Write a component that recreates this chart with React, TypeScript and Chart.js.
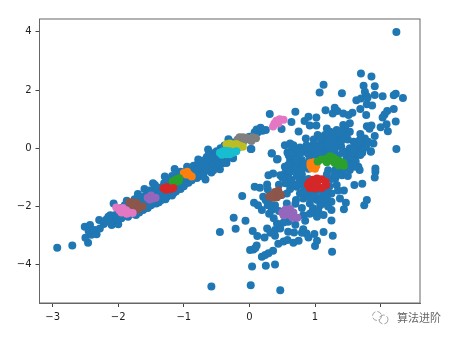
import React, { useEffect, useRef } from "react";
import { Chart, registerables } from "chart.js";

Chart.register(...registerables);

const xTicks = [-3, -2, -1, 0, 1, 2];
const yTicks = [-4, -2, 0, 2, 4];

const strandPoints = [
  [-2.93,-3.41],[-2.70,-3.34],[-2.46,-3.24],[-2.50,-3.07],[-2.41,-2.97],[-2.33,-2.95],[-2.51,-2.69],[-2.43,-2.63],
  [-2.45,-2.85],[-2.36,-2.8],[-2.28,-2.75],[-2.29,-2.46],[-2.18,-2.44],[-2.22,-2.6],[-2.10,-2.63],[-2.0,-2.61],[-2.05,-2.46],[-2.07,-1.89],
  [-2.12,-2.3],[-1.95,-2.40],[-1.85,-2.35],[-1.73,-2.29],[-1.87,-1.80],[-1.90,-1.95],[-2.0,-2.2],[-1.7,-1.57],[-1.6,-1.40],[-1.65,-1.7],
  [-1.75,-1.75],[-1.6,-2.05],[-1.5,-1.95],[-1.57,-2.0],[-1.55,-1.55],[-1.47,-1.2],[-1.44,-1.26],[-1.42,-1.89],[-1.47,-1.5],[-1.37,-1.35],
  [-1.4,-1.6],[-1.34,-1.77],[-1.29,-0.97],[-1.3,-1.2],[-1.26,-1.66],[-1.21,-1.6],[-1.25,-1.1],[-1.16,-1.54],[-1.14,-0.71],[-1.18,-0.95],
  [-1.06,-1.37],[-1.1,-1.25],[-1.02,-0.95],[-1.05,-0.8],[-0.95,-0.63],[-0.97,-1.2],[-0.9,-1.05],[-0.85,-0.75],[-0.82,-1.0],[-0.78,-0.38],
  [-0.8,-0.6],[-0.75,-0.85],[-0.72,-0.5],[-0.7,-0.72],[-0.67,-1.07],[-0.65,-0.3],[-0.63,-0.04],[-0.6,-0.6],[-0.58,-0.83],[-0.55,-0.17],
  [-0.55,-0.4],[-0.5,-0.6],[-0.45,-0.72],[-0.47,-0.25],[-0.44,0],[-0.4,-0.4],[-0.38,0.1],[-0.35,-0.5],[-0.32,0.31],[-0.25,-0.32],
  [-0.15,0.05],[0.03,-0.02],[-0.25,-0.34],[0.11,0.65],[0.17,0.71],[0.25,0.63],[0.2,0.6],[0.31,1.18],[0.13,0.55],
];

const strandFillPoints = [
  [-2.2,-2.5],[-2.15,-2.35],[-2.12,-2.55],[-2.05,-2.3],[-2.0,-2.42],[-1.95,-2.05],[-1.98,-2.3],[-1.9,-2.25],[-1.85,-2.1],[-1.82,-1.95],
  [-1.8,-2.25],[-1.75,-2.15],[-1.72,-1.95],[-1.68,-2.2],[-1.65,-1.85],[-1.62,-2.12],[-1.6,-1.65],[-1.58,-1.85],[-1.55,-2.05],[-1.52,-1.45],
  [-1.5,-1.75],[-1.48,-1.9],[-1.45,-1.55],[-1.45,-1.8],[-1.42,-1.7],[-1.4,-1.4],[-1.38,-1.85],[-1.35,-1.5],[-1.33,-1.65],[-1.3,-1.3],
  [-1.28,-1.45],[-1.28,-1.75],[-1.25,-1.55],[-1.22,-1.2],[-1.2,-1.4],[-1.18,-1.62],[-1.15,-1.05],[-1.15,-1.3],[-1.12,-1.48],[-1.1,-0.95],
  [-1.08,-1.15],[-1.05,-1.4],[-1.05,-1.25],[-1.0,-0.9],[-1.0,-1.1],[-1.0,-1.3],[-0.95,-0.75],[-0.95,-1.0],[-0.93,-1.18],[-0.9,-0.85],
  [-0.88,-1.1],[-0.85,-0.6],[-0.85,-0.9],[-0.8,-0.75],[-0.8,-1.02],[-0.78,-0.5],[-0.75,-0.65],[-0.75,-0.95],[-0.7,-0.42],[-0.7,-0.6],
  [-0.7,-0.88],[-0.65,-0.5],[-0.65,-0.75],[-0.62,-0.2],[-0.6,-0.4],[-0.6,-0.7],[-0.55,-0.3],[-0.55,-0.55],[-0.55,-0.75],[-0.5,-0.1],
  [-0.5,-0.45],[-0.45,-0.35],[-0.45,-0.55],[-0.42,-0.1],[-0.4,-0.25],[-0.4,-0.5],[-0.35,-0.05],[-0.35,-0.35],[-0.3,0.1],[-0.3,-0.3],
  [-0.25,0.2],[-0.2,0.0],[-0.15,0.25],[-0.1,0.2],[0.0,0.4],[0.08,0.55],
];

const cloudUpperPoints = [
  [2.24,3.99],[1.70,2.57],[1.86,2.47],[1.13,2.18],[1.07,1.92],[1.41,1.89],[1.74,2.15],[1.91,2.13],[1.76,1.94],[1.79,1.79],
  [1.91,1.83],[2.03,1.79],[1.63,1.65],[1.70,1.71],[1.80,1.74],[2.20,1.82],[2.23,1.87],[2.34,1.73],[1.69,1.35],[1.79,1.51],
  [1.87,1.47],[1.78,1.14],[2.20,1.35],[2.10,1.28],[2.06,1.16],[2.03,1.06],[2.23,0.92],[2.00,0.72],[2.09,0.83],[2.11,0.59],
  [1.79,0.76],[1.86,0.78],[1.83,0.67],[2.24,-0.02],[1.85,-0.10],[1.91,0.42],[1.89,0.17],[1.30,1.39],[1.16,1.31],[1.27,1.20],
  [1.34,1.28],[1.43,1.20],[1.51,1.14],[1.57,1.22],[0.70,1.26],[0.64,0.90],[0.49,0.66],[1.02,1.06],[0.90,1.08],[0.84,0.94],
  [0.92,0.78],[1.02,0.78],[0.75,0.58],[1.04,0.46],[0.86,0.34],[0.34,-0.18],[0.43,-0.37],[0.02,-0.02],
  [1.18,0.68],[1.23,0.57],[1.33,0.63],[1.43,0.80],[1.53,0.86],[1.46,0.68],[1.53,0.57],[1.38,0.46],[1.25,0.34],[1.15,0.46],
  [1.33,0.28],[1.43,0.34],[1.23,0.17],[1.13,0.23],[1.05,0.11],[0.97,0.11],[0.87,0.11],[0.77,0.03],[0.67,0.11],[0.54,0.11],
  [0.62,0.17],[0.58,-0.14],[0.64,-0.06],[0.72,-0.23],[0.62,-0.40],[0.54,-0.63],[0.80,-0.40],[0.85,-0.12],[1.0,-0.29],[1.46,-0.12],
  [1.53,0.0],[1.59,0.23],[1.69,0.49],[1.76,0.34],[1.71,0.11],[1.66,-0.06],[1.74,0.0],[1.81,0.23],[1.61,-0.29],[1.56,-0.46],
  [1.66,-0.63],[1.92,-0.69],[1.1,0.0],[1.2,-0.1],[1.3,-0.05],[1.4,0.05],[1.15,-0.2],[1.35,-0.25],[0.9,-0.2],[0.78,-0.58],
  [1.28,0.1],[1.38,0.15],[1.5,0.3],[1.6,0.05],[1.48,-0.3],[0.95,-0.08],[0.7,-0.5],[0.85,-0.55],
  [1.2,0.45],[1.28,0.45],[1.3,0.2],[1.22,0.28],[1.35,0.52],[1.42,0.6],[1.48,0.45],[1.4,0.25],[1.18,0.1],[1.08,0.08],
  [1.02,-0.05],[0.92,0.02],[0.82,-0.02],[0.74,-0.1],[0.68,-0.32],[0.6,-0.25],[0.92,-0.38],[1.08,-0.15],[1.28,-0.18],[1.42,-0.15],
  [1.55,-0.15],[1.58,-0.05],[1.5,-0.55],[1.55,-0.28],[1.62,-0.45],[1.72,-0.15],[1.65,0.2],[1.78,0.1],[1.68,0.28],[0.98,0.3],
  [1.08,0.35],[0.78,-0.15],[0.72,-0.4],[0.62,-0.55],[0.7,-0.65],[0.8,-0.7],
];

const cloudLowerPoints = [
  [-0.58,-4.74],[0.02,-4.70],[0.47,-4.87],[0.04,-4.06],[0.25,-4.03],[0.39,-3.99],[1.26,-3.55],[-0.45,-2.87],[-0.21,-2.76],[-0.24,-2.38],
  [-0.06,-2.49],[-0.11,-1.64],[0.01,-3.49],[0.06,-3.47],[0.11,-3.34],[0.09,-3.42],[0.19,-3.72],[0.24,-3.66],[0.29,-3.6],[0.36,-3.52],
  [0.05,-2.84],[0.12,-3.01],[0.23,-3.06],[0.27,-2.75],[0.39,-3.0],[0.44,-3.28],[0.52,-3.2],[0.58,-3.15],[0.67,-3.24],[0.75,-3.17],
  [0.47,-2.75],[0.39,-2.8],[0.59,-2.86],[0.68,-2.89],[0.59,-2.52],[0.85,-2.49],[0.82,-2.78],[0.87,-2.92],[0.90,-3.06],[0.99,-2.94],
  [1.13,-2.87],[1.27,-3.0],[1.0,-3.35],[1.03,-3.17],[1.25,-2.48],[0.37,-2.40],[0.34,-2.12],[0.19,-2.12],[0.13,-1.95],[0.07,-1.87],
  [0.21,-1.66],[0.08,-1.32],[0.16,-1.35],[0.27,-1.24],[0.28,-1.41],[0.29,-0.92],[0.36,-0.86],[0.47,-0.92],[0.59,-0.57],[0.34,-0.17],
  [0.42,-0.38],[0.59,-0.15],[0.54,-0.86],[0.64,-1.09],[0.72,-1.32],[0.77,-1.55],[0.57,-1.55],[0.49,-1.6],[0.39,-1.95],[0.57,-1.89],
  [0.71,-1.77],[0.82,-1.72],[0.92,-1.89],[0.97,-2.06],[1.03,-2.35],[1.13,-2.29],[1.25,-2.12],[1.25,-1.83],[1.15,-1.89],[1.44,-2.09],
  [1.47,-1.87],[1.38,-1.72],[1.44,-1.45],[1.33,-1.26],[1.31,-1.03],[1.41,-0.92],[1.31,-0.74],[1.6,-1.26],[1.72,-1.22],[1.79,-1.77],
  [1.75,-1.95],[1.92,-0.8],[1.91,-1.0],[1.68,-0.74],[1.53,-0.74],[1.61,-0.63],[1.69,-0.23],[1.85,-0.12],[0.72,-0.74],[0.59,-0.97],
  [0.77,-1.09],[0.82,-1.49],[0.92,-1.55],[1.03,-1.43],[1.03,-1.77],[1.08,-1.95],[1.25,-1.55],[1.18,-1.43],[0.97,-1.2],[0.8,-0.9],
  [0.9,-0.7],[1.2,-0.75],[1.45,-0.6],[1.5,-0.95],[1.18,-0.9],[0.85,-1.1],[0.7,-1.9],[0.8,-2.05],[0.3,-1.9],[0.45,-2.15],[0.3,-2.25],
  [0.72,-0.95],[0.65,-1.25],[0.75,-1.2],[0.55,-1.2],[0.62,-1.4],[0.82,-1.28],[0.9,-1.05],[0.45,-1.25],[0.88,-1.65],[1.0,-1.6],
  [1.12,-1.6],[1.18,-1.7],[1.08,-1.75],[0.95,-1.72],[1.35,-1.45],[1.25,-1.05],[1.38,-0.85],[1.3,-0.9],[1.42,-0.75],[1.22,-1.3],
  [0.62,-0.8],[0.5,-1.0],[0.8,-2.9],[0.7,-2.62],[0.52,-2.55],[0.42,-2.58],[0.32,-2.9],[0.28,-1.95],[0.25,-1.78],[0.95,-2.2],
  [1.2,-2.0],[1.05,-2.15],[0.82,-2.3],[0.92,-2.25],
];

const orangePoints = [[-1.0,-0.85],[-0.95,-0.8],[-0.92,-0.9],[-0.88,-0.97],[-0.96,-0.9],[0.93,-0.5],[0.98,-0.48],[1.02,-0.6],[0.95,-0.68],[1.0,-0.7],[0.93,-0.6]];
const greenPoints = [[-1.17,-1.14],[-1.12,-1.07],[-1.07,-1.03],[-1.12,-1.15],[-1.08,-1.12],[1.04,-0.45],[1.1,-0.38],[1.18,-0.35],[1.23,-0.27],[1.28,-0.32],[1.33,-0.4],[1.38,-0.45],[1.43,-0.5],[1.44,-0.6],[1.25,-0.42],[1.18,-0.48],[1.3,-0.5],[1.36,-0.58]];
const redPoints = [[-1.31,-1.37],[-1.26,-1.33],[-1.2,-1.4],[-1.16,-1.36],[-1.27,-1.42],[0.89,-1.25],[0.92,-1.15],[0.97,-1.08],[1.03,-1.04],[1.1,-1.06],[1.16,-1.15],[1.17,-1.27],[1.1,-1.36],[1.0,-1.38],[0.92,-1.36],[1.03,-1.2]];
const purplePoints = [[-1.55,-1.7],[-1.5,-1.62],[-1.47,-1.72],[-1.43,-1.7],[-1.52,-1.76],[0.5,-2.2],[0.55,-2.1],[0.62,-2.08],[0.67,-2.2],[0.73,-2.38],[0.66,-2.38],[0.58,-2.25],[0.52,-2.3],[0.62,-2.3]];
const brownPoints = [[-1.83,-1.85],[-1.78,-1.85],[-1.72,-1.88],[-1.68,-2.0],[-1.63,-2.0],[-1.75,-2.03],[-1.7,-2.1],[-1.78,-1.95],[0.3,-1.65],[0.35,-1.6],[0.39,-1.5],[0.44,-1.45],[0.48,-1.6],[0.42,-1.68],[0.36,-1.7]];
const pinkPoints = [[-2.03,-2.03],[-1.98,-2.13],[-1.93,-2.05],[-1.88,-2.13],[-1.83,-2.2],[-1.78,-2.22],[-1.95,-2.2],[-1.87,-2.25],[0.36,0.75],[0.38,0.85],[0.41,0.95],[0.46,1.0],[0.52,0.98],[0.44,0.85]];
const grayPoints = [[-0.18,0.3],[-0.15,0.38],[-0.1,0.38],[-0.05,0.36],[0,0.3],[0.05,0.38],[0.1,0.35],[-0.08,0.28],[0.03,0.25]];
const olivePoints = [[-0.35,0.14],[-0.3,0.17],[-0.25,0.13],[-0.2,0.15],[-0.15,0.1],[-0.1,0.05],[-0.28,0.05],[-0.2,0.05]];
const cyanPoints = [[-0.45,-0.15],[-0.4,-0.1],[-0.42,-0.22],[-0.35,-0.2],[-0.3,-0.2],[-0.25,-0.15],[-0.2,-0.1],[-0.3,-0.1],[-0.36,-0.08]];

const toXY = (pts: number[][]) => pts.map(([x, y]) => ({ x, y }));
const label = (v: number) => (v < 0 ? "\u2212" + Math.abs(v) : String(v));

const frame = {
  id: "frame",
  afterDatasetsDraw(chart: any) {
    const { ctx, chartArea: a } = chart;
    ctx.save();
    ctx.strokeStyle = "#666";
    ctx.lineWidth = 1;
    ctx.strokeRect(a.left, a.top, a.right - a.left, a.bottom - a.top);
    ctx.restore();
  },
};

export default function App() {
  const ref = useRef<HTMLCanvasElement>(null);
  useEffect(() => {
    const series: [string, number[][]][] = [
      ["#1f77b4", [...strandPoints, ...strandFillPoints, ...cloudUpperPoints, ...cloudLowerPoints]],
      ["#ff7f0e", orangePoints],
      ["#2ca02c", greenPoints],
      ["#d62728", redPoints],
      ["#9467bd", purplePoints],
      ["#8c564b", brownPoints],
      ["#e377c2", pinkPoints],
      ["#7f7f7f", grayPoints],
      ["#bcbd22", olivePoints],
      ["#17becf", cyanPoints],
    ];
    const tick = { color: "#222", font: { family: "DejaVu Sans", size: 10 }, padding: 4, autoSkip: false, maxRotation: 0 };
    const grid = { drawOnChartArea: false, tickLength: 4, tickColor: "#444" };
    const chart = new Chart(ref.current!, {
      type: "scatter",
      data: {
        datasets: series.map(([color, pts], i) => ({
          data: toXY(pts),
          backgroundColor: color,
          borderWidth: 0,
          pointRadius: 4,
          order: series.length - i,
        })),
      },
      options: {
        animation: false,
        responsive: false,
        layout: { padding: { left: 0, right: 35, top: 19, bottom: 0 } },
        plugins: { legend: { display: false }, tooltip: { enabled: false } },
        scales: {
          x: {
            type: "linear", min: -3.2, max: 2.6,
            afterBuildTicks: (s: any) => { s.ticks = xTicks.map((value) => ({ value })); },
            afterFit: (s: any) => { s.height = 34; },
            ticks: { ...tick, callback: (v: any) => label(Number(v)) },
            grid, border: { color: "#666" },
          },
          y: {
            type: "linear", min: -5.31, max: 4.44,
            afterBuildTicks: (s: any) => { s.ticks = yTicks.map((value) => ({ value })); },
            afterFit: (s: any) => { s.width = 39.5; },
            ticks: { ...tick, callback: (v: any) => label(Number(v)) },
            grid, border: { color: "#666" },
          },
        },
      },
      plugins: [frame],
    } as any);
    return () => chart.destroy();
  }, []);
  return (
    <div style={{ position: "absolute", left: 0, top: 0, width: 455, height: 337, background: "#fff", overflow: "hidden" }}>
      <canvas ref={ref} width={455} height={337} style={{ display: "block", filter: "blur(0.35px)" }} />
      <svg width={22} height={18} style={{ position: "absolute", left: 370, top: 309, background: "#fff" }} fill="none" stroke="#999" strokeWidth={0.9}>
        <circle cx={7} cy={7} r={4.5} strokeDasharray="5 2" />
        <circle cx={13.5} cy={10.5} r={4.5} strokeDasharray="6 2" />
      </svg>
      <span style={{ position: "absolute", left: 397, top: 310, fontFamily: "'Noto Sans CJK SC'", fontSize: 11, lineHeight: "14px", color: "#666", whiteSpace: "nowrap" }}>算法进阶</span>
    </div>
  );
}
